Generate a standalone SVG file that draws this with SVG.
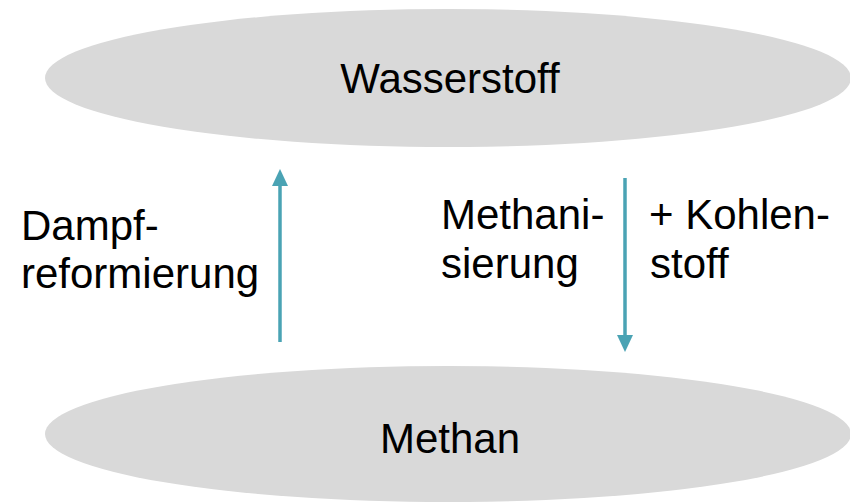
<svg xmlns="http://www.w3.org/2000/svg" width="850" height="503" viewBox="0 0 850 503">
<style>
.node{fill:#d9d9d9}
.t{font-family:"Liberation Sans",Arial,sans-serif;font-size:42px;fill:#000}
.c{text-anchor:middle}
.e{stroke:#4aa3b4;stroke-width:3.5;fill:none;marker-end:url(#ah)}
</style>
<defs>
<marker id="ah" markerUnits="userSpaceOnUse" markerWidth="17" markerHeight="16" refX="0" refY="8" orient="auto" viewBox="0 0 17 16">
<path d="M0,0 L17,8 L0,16 Z" fill="#4aa3b4"/>
</marker>
</defs>
<rect width="850" height="503" fill="#fff"/>
<g id="wasserstoff">
<ellipse class="node" cx="448" cy="78" rx="403" ry="69"/>
<text class="t c" x="450" y="93">Wasserstoff</text>
</g>
<g id="methan">
<ellipse class="node" cx="448" cy="434" rx="403" ry="68"/>
<text class="t c" x="450" y="453">Methan</text>
</g>
<g id="connectors">
<line class="e" x1="280" y1="342" x2="280" y2="186"/>
<line class="e" x1="625" y1="178" x2="625" y2="335"/>
</g>
<g id="labels">
<text class="t" x="21" y="240">Dampf-</text>
<text class="t" x="21" y="288">reformierung</text>
<text class="t" x="441" y="229">Methani-</text>
<text class="t" x="441" y="278">sierung</text>
<text class="t" x="649" y="229">+ Kohlen-</text>
<text class="t" x="650" y="278">stoff</text>
</g>
</svg>
